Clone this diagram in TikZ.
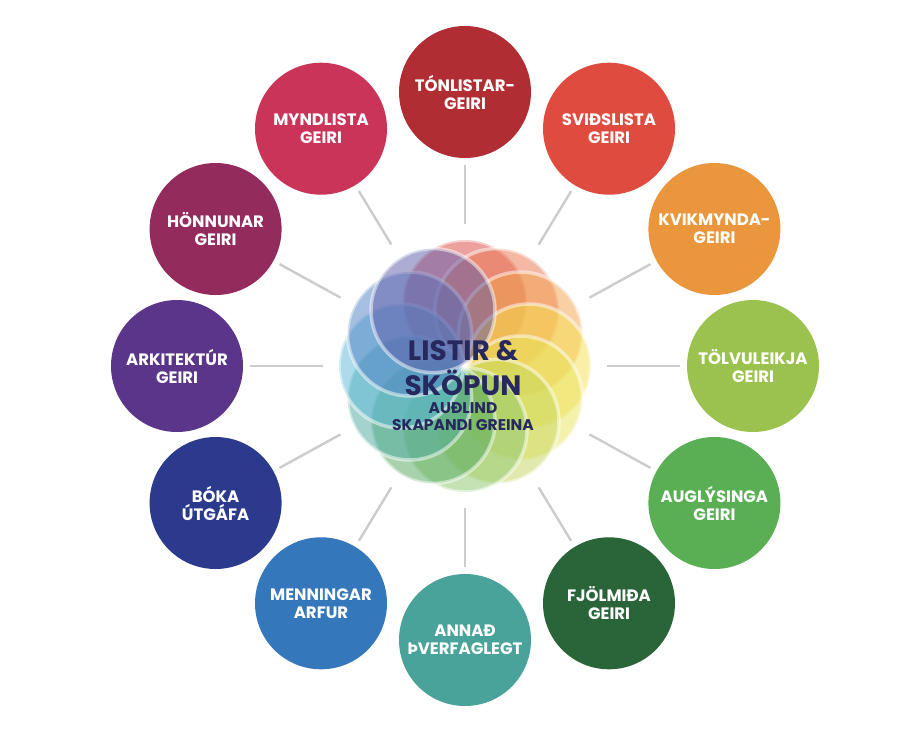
\documentclass[tikz,border=0pt]{standalone}
\usepackage{fontspec}
\setsansfont{Poppins}
\usetikzlibrary{calc}
\usetikzlibrary{positioning}

\definecolor{cTon}{HTML}{B02E33}
\definecolor{cSvid}{HTML}{DF4B3E}
\definecolor{cKvik}{HTML}{EA963D}
\definecolor{cTolv}{HTML}{9BC24F}
\definecolor{cAugl}{HTML}{5AAF55}
\definecolor{cFjol}{HTML}{2A6439}
\definecolor{cAnn}{HTML}{4AA39A}
\definecolor{cMenn}{HTML}{3477BB}
\definecolor{cBok}{HTML}{2C3A8E}
\definecolor{cArk}{HTML}{5B3589}
\definecolor{cHonn}{HTML}{932B5D}
\definecolor{cMynd}{HTML}{C93458}
\definecolor{cNavy}{HTML}{27285E}

\begin{document}
\begin{tikzpicture}[x=1pt,y=1pt,
    sector/.style={circle,minimum size=132pt,inner sep=0pt,text=white,align=center,
        font=\sffamily\bfseries\fontsize{16.5}{18}\selectfont},
    spoke/.style={draw=black!20,line width=2.4pt},
    petal/.style={fill opacity=0.5,draw=white,draw opacity=0.5,line width=3.5pt}]
    \useasboundingbox (0,0) rectangle (920,-747);
    \coordinate (c) at (465,-366);
    % flower
    \foreach \a/\col in {90/D9443F,60/E9714A,30/F2A14A,0/F4E04D,-30/E8E45A,-60/C4D65A,
        -90/8CC66A,-120/4FA55A,-150/4AA89E,180/5BB8D8,150/4F7FC4,120/5C5BA8}
        {
        \definecolor{petalcol}{HTML}{\col}
        \filldraw[petal,fill=petalcol] ($(c)+(\a:64)$) circle (62);
        }
    \node[text=cNavy,align=center,font=\sffamily\bfseries\fontsize{28}{35}\selectfont]
        (core) at ($(c)+(-2,-2)$) {LISTIR \&\\SKÖPUN};
    \node[text=cNavy,align=center,font=\sffamily\bfseries\fontsize{15.5}{17}\selectfont,
        below=0pt of core] (coresub) {AUÐLIND\\SKAPANDI GREINA};
    % sectors
    \foreach \a/\name/\col/\txt in {90/ton/cTon/TÓNLISTAR-\\GEIRI,
        60/svid/cSvid/SVIÐSLISTA\\GEIRI,
        30/kvik/cKvik/KVIKMYNDA-\\GEIRI,
        0/tolv/cTolv/TÖLVULEIKJA\\GEIRI,
        -30/augl/cAugl/AUGLÝSINGA\\GEIRI,
        -60/fjol/cFjol/FJÖLMIÐA\\GEIRI,
        -90/ann/cAnn/ANNAÐ\\ÞVERFAGLEGT,
        -120/menn/cMenn/MENNINGAR\\ARFUR,
        -150/bok/cBok/BÓKA\\ÚTGÁFA,
        180/ark/cArk/ARKITEKTÚR\\GEIRI,
        150/honn/cHonn/HÖNNUNAR\\GEIRI,
        120/mynd/cMynd/MYNDLISTA\\GEIRI}
        {
        \node[sector,fill=\col] (\name) at ($(c)+(\a:288 and 274)$) {\txt};
        \draw[spoke] ($(c)!142pt!(\name)$) -- ($(\name)!73pt!(c)$);
        }
\end{tikzpicture}
\end{document}
